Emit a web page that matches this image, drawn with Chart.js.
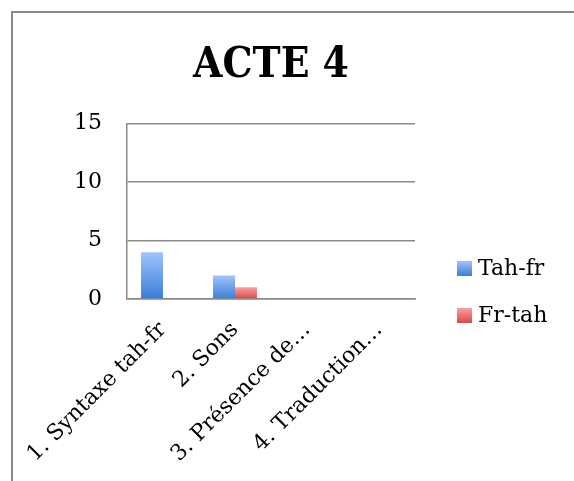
<!DOCTYPE html>
<html>
<head>
<meta charset="utf-8">
<script src="https://cdn.jsdelivr.net/npm/chart.js@4/dist/chart.umd.min.js"></script>
<style>
  body { margin: 0; background: #fff; }
  #frame { position: absolute; left: 11px; top: 11px; width: 640px; height: 540px; border: 2px solid #8a8a8a; }
  #chart { position: absolute; left: 0; top: 0; }
</style>
</head>
<body>
<div id="frame"></div>
<canvas id="chart" width="574" height="481"></canvas>
<script>
// data
const categories = ['1. Syntaxe tah-fr', '2. Sons', '3. Présence de…', '4. Traduction…'];
const tahFr = [4, 2, 0, 0];
const frTah = [0, 1, 0, 0];
const yTicks = [0, 5, 10, 15];

const FONT = '"DejaVu Serif", "Liberation Serif", serif';

// vertical gradient for each bar, light on top, dark at the base
function barGradient(light, dark) {
    return function(ctx) {
        const chart = ctx.chart;
        const y = chart.scales.y;
        if (!y || ctx.type !== 'data') return dark;
        const top = y.getPixelForValue(ctx.raw);
        const base = y.getPixelForValue(0);
        if (!isFinite(top) || top === base) return dark;
        const g = chart.ctx.createLinearGradient(0, top, 0, base);
        g.addColorStop(0, light);
        g.addColorStop(1, dark);
        return g;
    };
}

const colors = [
    { light: '#9ec4fb', dark: '#3b7dd8' },
    { light: '#f9a0a0', dark: '#d84848' }
];

// legend drawn beside the plot, lower right like the original
const sideLegend = {
    id: 'sideLegend',
    afterDraw(chart) {
        const c = chart.ctx;
        const area = chart.chartArea;
        c.save();
        c.font = '22px ' + FONT;
        c.textBaseline = 'middle';
        c.fillStyle = '#000';
        chart.data.datasets.forEach(function(ds, i) {
            const x = area.right + 42;
            const y = area.bottom - 31 + i * 47;
            const g = c.createLinearGradient(0, y - 7, 0, y + 8);
            g.addColorStop(0, colors[i].light);
            g.addColorStop(1, colors[i].dark);
            c.fillStyle = g;
            c.fillRect(x, y - 7, 15, 15);
            c.fillStyle = '#000';
            c.fillText(ds.label, x + 21, y + 1);
        });
        c.restore();
    }
};

new Chart(document.getElementById('chart'), {
    type: 'bar',
    data: {
        labels: categories,
        datasets: [{
            label: 'Tah-fr',
            data: tahFr,
            backgroundColor: barGradient(colors[0].light, colors[0].dark)
        }, {
            label: 'Fr-tah',
            data: frTah,
            backgroundColor: barGradient(colors[1].light, colors[1].dark)
        }]
    },
    options: {
        responsive: false,
        animation: false,
        layout: { padding: { left: 0, right: 159, top: 0, bottom: 0 } },
        datasets: {
            bar: { categoryPercentage: 0.61, barPercentage: 1 }
        },
        plugins: {
            legend: { display: false },
            tooltip: { enabled: false },
            title: {
                display: true,
                text: 'ACTE 4',
                fullSize: false,
                color: '#000',
                font: { family: '"DejaVu Serif Condensed", ' + FONT, size: 42, weight: 'bold', lineHeight: 1.2 },
                padding: { top: 41, bottom: 32 }
            }
        },
        scales: {
            x: {
                grid: { display: false, drawTicks: false },
                border: { color: '#8a8a8a', width: 1.5 },
                ticks: {
                    autoSkip: false,
                    minRotation: 45,
                    maxRotation: 45,
                    padding: 18,
                    color: '#000',
                    font: { family: FONT, size: 22 }
                },
                afterFit: function(scale) {
                    scale.height = 182;
                    // rotated labels may spill left into the y axis area
                    scale.paddingLeft = 0;
                    scale.paddingRight = 0;
                }
            },
            y: {
                min: 0,
                max: 15,
                grid: { color: '#8a8a8a', lineWidth: 1.5, drawTicks: false },
                border: { color: '#8a8a8a', width: 1.5 },
                afterBuildTicks: function(scale) {
                    scale.ticks = yTicks.map(v => ({ value: v }));
                },
                ticks: {
                    padding: 25,
                    color: '#000',
                    font: { family: FONT, size: 22 }
                },
                afterFit: function(scale) { scale.width = 127; }
            }
        }
    },
    plugins: [sideLegend]
});
</script>
</body>
</html>
